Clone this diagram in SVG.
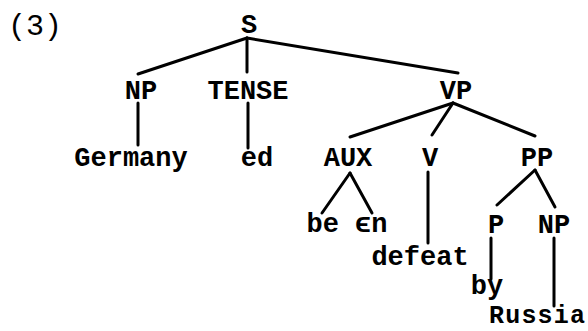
<svg xmlns="http://www.w3.org/2000/svg" width="588" height="331" viewBox="0 0 588 331">
<style>
text{font-family:"Liberation Mono","DejaVu Sans Mono",monospace;font-size:27px;font-weight:bold;fill:#000;text-anchor:middle}
.e line{stroke:#000;stroke-width:3;stroke-linecap:round}
</style>
<rect width="588" height="331" fill="#fff"/>
<text x="35" y="35" style="font-size:30px;font-weight:normal">(3)</text>
<g class="e" id="connectors">
<line x1="247" y1="38" x2="138" y2="74"/>
<line x1="247" y1="38" x2="247" y2="72"/>
<line x1="247" y1="38" x2="458" y2="73"/>
<line x1="138" y1="103" x2="138" y2="145"/>
<line x1="248" y1="103" x2="248" y2="148"/>
<line x1="453" y1="103" x2="350" y2="137"/>
<line x1="453" y1="103" x2="432" y2="135"/>
<line x1="453" y1="103" x2="535" y2="136"/>
<line x1="350" y1="173" x2="322" y2="213"/>
<line x1="350" y1="173" x2="372" y2="213"/>
<line x1="428" y1="172" x2="428" y2="243"/>
<line x1="535" y1="170" x2="497" y2="205"/>
<line x1="535" y1="170" x2="555" y2="207"/>
<line x1="491" y1="238" x2="491" y2="279"/>
<line x1="554" y1="238" x2="554" y2="306"/>
</g>
<g id="S"><text x="249" y="33">S</text></g>
<g id="NP1"><text x="141" y="99">NP</text></g>
<g id="TENSE"><text x="248" y="99">TENSE</text></g>
<g id="VP"><text x="456" y="99">VP</text></g>
<g id="Germany"><text x="131" y="166">Germany</text></g>
<g id="ed"><text x="257" y="166">ed</text></g>
<g id="AUX"><text x="348" y="166">AUX</text></g>
<g id="V"><text x="430" y="166">V</text></g>
<g id="PP"><text x="537" y="166">PP</text></g>
<g id="been"><text x="347" y="232">be ϵn</text></g>
<g id="defeat"><text x="420" y="265">defeat</text></g>
<g id="P"><text x="496" y="233">P</text></g>
<g id="NP2"><text x="554" y="233">NP</text></g>
<g id="by"><text x="487" y="294">by</text></g>
<g id="Russia"><text x="537" y="323" style="font-size:25px" textLength="96" lengthAdjust="spacing">Russia</text></g>
</svg>
